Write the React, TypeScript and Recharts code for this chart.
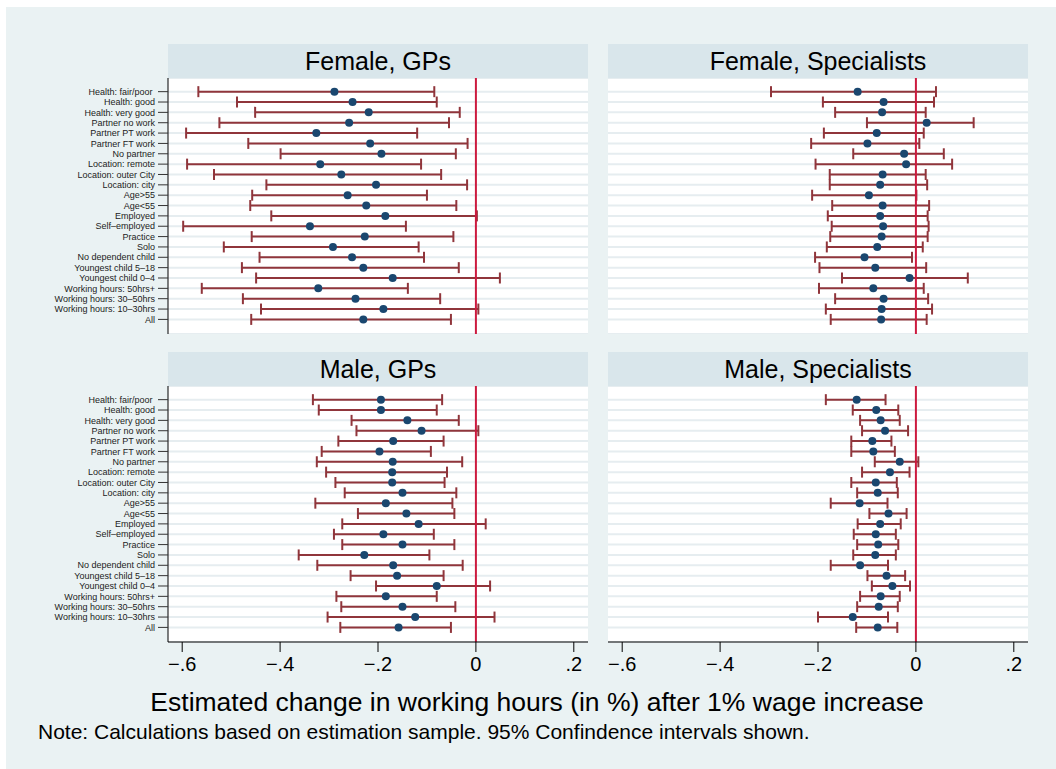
import React from "react";
import {
  ScatterChart,
  Scatter,
  XAxis,
  YAxis,
  CartesianGrid,
  ErrorBar,
  ReferenceLine,
} from "recharts";

const FONT = "'Liberation Sans', Arial, Helvetica, sans-serif";

const rowLabels = [
  "Health: fair/poor\u00a0",
  "Health: good",
  "Health: very good",
  "Partner no work",
  "Partner PT work",
  "Partner FT work",
  "No partner",
  "Location: remote",
  "Location: outer City",
  "Location: city",
  "Age>55",
  "Age<55",
  "Employed",
  "Self\u2013employed",
  "Practice",
  "Solo",
  "No dependent child",
  "Youngest child 5\u201318",
  "Youngest child 0\u20134",
  "Working hours: 50hrs+",
  "Working hours: 30\u201350hrs",
  "Working hours: 10\u201330hrs",
  "All",
];

const xTicks = [-0.6, -0.4, -0.2, 0, 0.2];
const xTickLabels = ["\u2212.6", "\u2212.4", "\u2212.2", "0", ".2"];

// Female, GPs
const femaleGpEst = [-0.289, -0.252, -0.219, -0.259, -0.326, -0.216, -0.193, -0.318, -0.275, -0.204, -0.262, -0.224, -0.185, -0.339, -0.227, -0.292, -0.253, -0.23, -0.17, -0.322, -0.246, -0.189, -0.23];
const femaleGpLo = [-0.567, -0.488, -0.451, -0.524, -0.592, -0.465, -0.399, -0.59, -0.535, -0.428, -0.457, -0.461, -0.418, -0.598, -0.458, -0.515, -0.442, -0.478, -0.449, -0.56, -0.476, -0.439, -0.459];
const femaleGpHi = [-0.085, -0.08, -0.033, -0.055, -0.12, -0.017, -0.041, -0.112, -0.071, -0.018, -0.1, -0.04, 0.002, -0.143, -0.046, -0.117, -0.106, -0.035, 0.049, -0.139, -0.073, 0.005, -0.051];

// Female, Specialists
const femaleSpEst = [-0.119, -0.066, -0.069, 0.022, -0.08, -0.099, -0.024, -0.02, -0.068, -0.073, -0.096, -0.068, -0.073, -0.067, -0.07, -0.079, -0.105, -0.083, -0.013, -0.087, -0.066, -0.07, -0.071];
const femaleSpLo = [-0.296, -0.19, -0.165, -0.1, -0.188, -0.214, -0.128, -0.205, -0.176, -0.176, -0.212, -0.171, -0.18, -0.172, -0.175, -0.182, -0.206, -0.197, -0.151, -0.198, -0.165, -0.184, -0.174];
const femaleSpHi = [0.041, 0.037, 0.02, 0.118, 0.016, 0.007, 0.057, 0.074, 0.02, 0.023, 0.001, 0.027, 0.024, 0.026, 0.024, 0.014, -0.008, 0.021, 0.106, 0.016, 0.025, 0.033, 0.022];

// Male, GPs
const maleGpEst = [-0.194, -0.194, -0.14, -0.111, -0.169, -0.197, -0.17, -0.171, -0.171, -0.15, -0.184, -0.142, -0.117, -0.189, -0.15, -0.228, -0.169, -0.161, -0.08, -0.184, -0.15, -0.124, -0.158];
const maleGpLo = [-0.333, -0.321, -0.254, -0.244, -0.281, -0.315, -0.325, -0.306, -0.287, -0.268, -0.328, -0.241, -0.273, -0.29, -0.273, -0.362, -0.324, -0.256, -0.204, -0.285, -0.275, -0.303, -0.277];
const maleGpHi = [-0.069, -0.08, -0.035, 0.005, -0.066, -0.092, -0.028, -0.059, -0.064, -0.04, -0.048, -0.044, 0.02, -0.086, -0.044, -0.095, -0.027, -0.066, 0.029, -0.08, -0.042, 0.038, -0.051];

// Male, Specialists
const maleSpEst = [-0.121, -0.081, -0.072, -0.063, -0.089, -0.087, -0.033, -0.053, -0.082, -0.078, -0.115, -0.056, -0.073, -0.082, -0.077, -0.083, -0.114, -0.06, -0.048, -0.072, -0.076, -0.129, -0.078];
const maleSpLo = [-0.184, -0.129, -0.114, -0.11, -0.132, -0.132, -0.084, -0.11, -0.132, -0.12, -0.174, -0.095, -0.119, -0.127, -0.12, -0.128, -0.174, -0.099, -0.09, -0.114, -0.12, -0.2, -0.122];
const maleSpHi = [-0.062, -0.036, -0.033, -0.016, -0.05, -0.043, 0.005, -0.013, -0.039, -0.037, -0.058, -0.019, -0.031, -0.041, -0.036, -0.041, -0.057, -0.022, -0.012, -0.033, -0.037, -0.057, -0.038];

const rowTicks = rowLabels.map((_, i) => i + 1);

const Dot = (props: any) => (
  <circle cx={props.cx} cy={props.cy} r={4} fill="#1a476f" />
);

// plain svg text so long labels are not wrapped
const RowTick = (props: any) => (
  <text
    x={props.x}
    y={props.y}
    dy="0.355em"
    textAnchor="end"
    fontSize={9}
    fontFamily={FONT}
    fill="#222"
  >
    {rowLabels[props.payload.value - 1]}
  </text>
);

type PanelProps = {
  est: number[];
  lo: number[];
  hi: number[];
  top: number;
  showY: boolean;
  showX: boolean;
};

const Panel = ({ est, lo, hi, top, showY, showX }: PanelProps) => {
  const data = est.map((v, i) => ({
    row: i + 1,
    est: v,
    err: [v - lo[i], hi[i] - v],
  }));
  const width = showY ? 580 : 420;
  const height = showX ? 306 : 256;

  return (
    <div style={{ position: "absolute", left: showY ? 8 : 608, top }}>
      <ScatterChart
        width={width}
        height={height}
        margin={{ top: 0, right: 0, bottom: 0, left: 0 }}
      >
        <CartesianGrid vertical={false} stroke="#e6edf0" strokeWidth={2} />
        <XAxis
          type="number"
          dataKey="est"
          domain={[-0.629, 0.229]}
          allowDataOverflow
          ticks={xTicks}
          interval={0}
          tickFormatter={(v: number) => xTickLabels[xTicks.indexOf(v)]}
          hide={!showX}
          height={50}
          axisLine={{ stroke: "#000", strokeWidth: 1 }}
          tickLine={{ stroke: "#000", strokeWidth: 1 }}
          tickSize={10}
          tickMargin={5}
          tick={{ fontSize: 20, fill: "#000", fontFamily: FONT }}
        />
        <YAxis
          type="number"
          dataKey="row"
          domain={[-0.32, 24.41]}
          allowDataOverflow
          reversed
          ticks={rowTicks}
          interval={0}
          hide={!showY}
          width={showY ? 160 : 0}
          axisLine={{ stroke: "#000", strokeWidth: 1 }}
          tickLine={{ stroke: "#333", strokeWidth: 1 }}
          tickSize={10}
          tickMargin={3}
          tick={<RowTick />}
        />
        <Scatter data={data} shape={Dot} isAnimationActive={false}>
          <ErrorBar
            dataKey="err"
            direction="x"
            width={5.5}
            stroke="#90353b"
            strokeWidth={2}
            isAnimationActive={false}
          />
        </Scatter>
        <ReferenceLine x={0} stroke="#cc1a3f" strokeWidth={2} />
      </ScatterChart>
    </div>
  );
};

const App = () => {
  const headers = [
    { label: "Female, GPs", x: 168, y: 44 },
    { label: "Female, Specialists", x: 608, y: 44 },
    { label: "Male, GPs", x: 168, y: 352 },
    { label: "Male, Specialists", x: 608, y: 352 },
  ];

  return (
    <div
      style={{
        position: "absolute",
        left: 0,
        top: 0,
        width: 1056,
        height: 769,
        background: "#fff",
        fontFamily: FONT,
      }}
    >
      <svg
        width={1056}
        height={769}
        style={{ position: "absolute", left: 0, top: 0 }}
      >
        <rect x={6} y={7} width={1050} height={762} fill="#eaf2f3" />
        {headers.map((h) => (
          <g key={h.label}>
            <rect x={h.x} y={h.y} width={420} height={34} fill="#d9e6eb" />
            <rect x={h.x} y={h.y + 34} width={420} height={256} fill="#fff" />
            <text
              x={h.x + 210}
              y={h.y + 26}
              textAnchor="middle"
              fontSize={25}
              fontFamily={FONT}
              fill="#000"
            >
              {h.label}
            </text>
          </g>
        ))}
        <text
          x={537}
          y={711}
          textAnchor="middle"
          fontSize={26.5}
          fontFamily={FONT}
          fill="#000"
        >
          Estimated change in working hours (in %) after 1% wage increase
        </text>
        <text x={38} y={739} fontSize={21} fontFamily={FONT} fill="#000">
          Note: Calculations based on estimation sample. 95% Confindence
          intervals shown.
        </text>
      </svg>
      <Panel est={femaleGpEst} lo={femaleGpLo} hi={femaleGpHi} top={78} showY showX={false} />
      <Panel est={femaleSpEst} lo={femaleSpLo} hi={femaleSpHi} top={78} showY={false} showX={false} />
      <Panel est={maleGpEst} lo={maleGpLo} hi={maleGpHi} top={386} showY showX />
      <Panel est={maleSpEst} lo={maleSpLo} hi={maleSpHi} top={386} showY={false} showX />
    </div>
  );
};

export default App;
